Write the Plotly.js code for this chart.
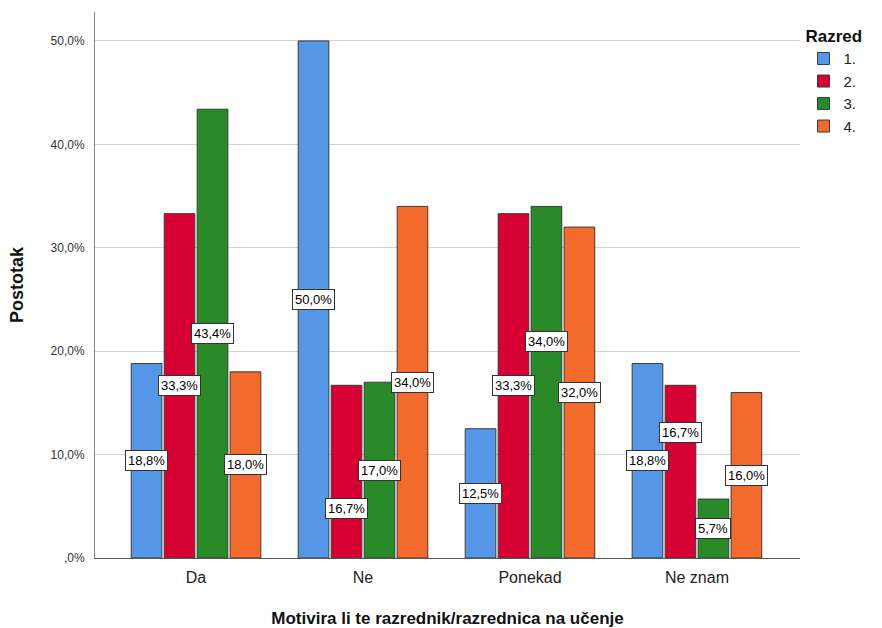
<!DOCTYPE html>
<html><head><meta charset="utf-8">
<script src="https://cdn.plot.ly/plotly-3.0.1.min.js"></script>
<style>body{margin:0;background:#fff}#c{width:882px;height:628px}</style>
</head><body><div id="c"></div>
<script>
const categories = ["Da", "Ne", "Ponekad", "Ne znam"];
const seriesNames = ["1.", "2.", "3.", "4."];
const razred1 = [18.8, 50.0, 12.5, 18.8];
const razred2 = [33.3, 16.7, 33.3, 16.7];
const razred3 = [43.4, 17.0, 34.0, 5.7];
const razred4 = [18.0, 34.0, 32.0, 16.0];
const yTickVals = [0, 10, 20, 30, 40, 50];
const yTickText = [",0%", "10,0%", "20,0%", "30,0%", "40,0%", "50,0%"];
const colors = ["#5596e6", "#d70033", "#2a8a2a", "#f26b2c"];
// label nudges (pixels) to avoid overlapping boxes, per series per category
const labelShift = [[0, 0, 0, 0], [0, -37, 0, 39], [0, 0, 41, 0], [0, 0, 0, 0]];

const series = [razred1, razred2, razred3, razred4];
const bargap = 0.21;
const slot = (1 - bargap) / series.length;
const fmt = v => v.toFixed(1).replace(".", ",") + "%";

const traces = series.map((vals, i) => ({
  type: "bar", name: seriesNames[i], x: categories, y: vals,
  marker: {color: colors[i], line: {color: "#3a3a3a", width: 1}},
  hoverinfo: "none"
}));

const annotations = [];
series.forEach((vals, i) => {
  vals.forEach((v, j) => {
    annotations.push({
      x: j + (i - (series.length - 1) / 2) * slot, y: v / 2,
      xref: "x", yref: "y", text: fmt(v), showarrow: false,
      yshift: labelShift[i][j],
      font: {family: "Liberation Sans, Arial, sans-serif", size: 13, color: "#000"},
      bgcolor: "#ffffff", bordercolor: "#333333", borderwidth: 1, borderpad: 2
    });
  });
});

const layout = {
  width: 882, height: 628,
  margin: {l: 95, r: 82, t: 12, b: 70},
  paper_bgcolor: "#fff", plot_bgcolor: "#fff",
  barmode: "group", bargap: bargap, bargroupgap: 0.07,
  font: {family: "Liberation Sans, Arial, sans-serif", color: "#222"},
  showlegend: true,
  legend: {
    x: 1.005, y: 0.985, xanchor: "left", yanchor: "top",
    title: {text: "<b>Razred</b>", font: {size: 17, color: "#111"}},
    font: {size: 15, color: "#222"}, tracegroupgap: 0, itemwidth: 30
  },
  xaxis: {
    type: "category", range: [-0.605, 3.617],
    showline: true, linecolor: "#555", linewidth: 1,
    ticks: "", tickfont: {size: 16, color: "#222"}, ticklabelstandoff: 5,
    title: {text: "<b>Motivira li te razrednik/razrednica na učenje</b>", font: {size: 17, color: "#111"}, standoff: 28},
    fixedrange: true
  },
  yaxis: {
    range: [0, 52.8], tickvals: yTickVals, ticktext: yTickText,
    showgrid: true, gridcolor: "#d4d4d4", gridwidth: 1,
    showline: true, linecolor: "#888", linewidth: 1, zeroline: false,
    ticks: "", tickfont: {size: 12, color: "#333"}, ticklabelstandoff: 7,
    title: {text: "<b>Postotak</b>", font: {size: 18, color: "#111"}, standoff: 22},
    fixedrange: true
  },
  annotations: annotations
};

Plotly.newPlot("c", traces, layout, {displayModeBar: false, staticPlot: true});
</script></body></html>
